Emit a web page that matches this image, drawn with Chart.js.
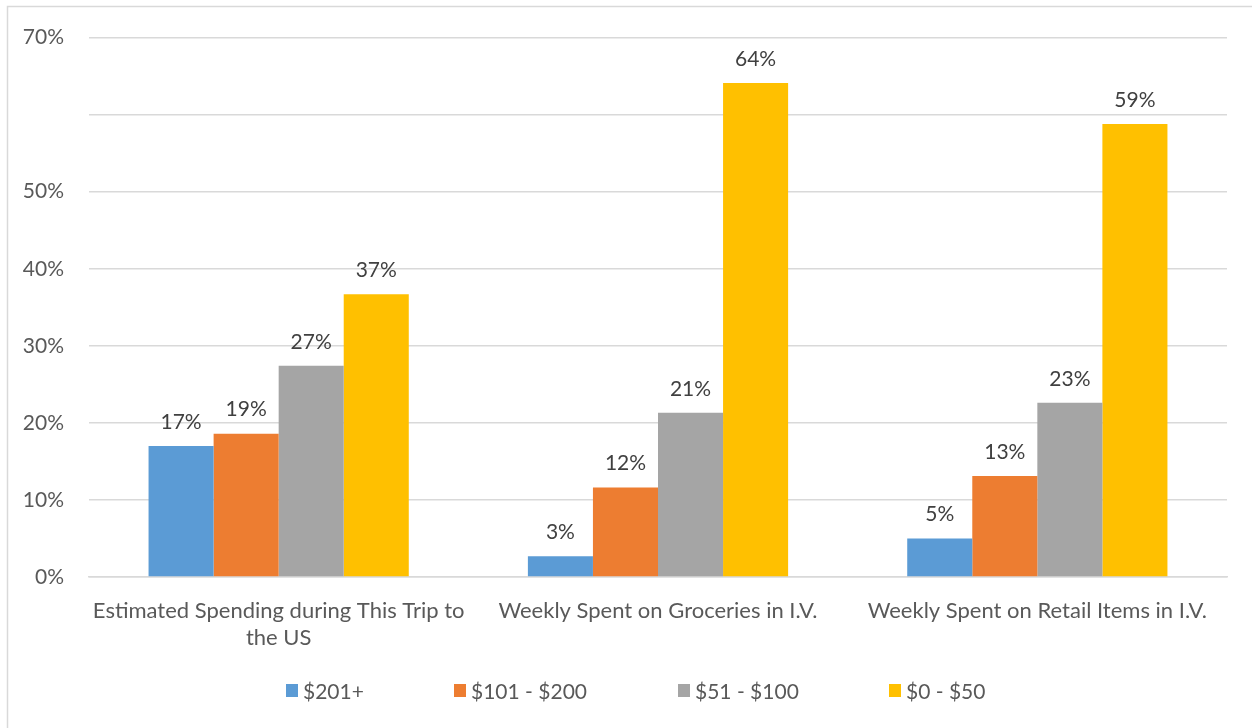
<!DOCTYPE html>
<html>
<head>
<meta charset="utf-8">
<script src="https://cdn.jsdelivr.net/npm/chart.js@4.4.1/dist/chart.umd.min.js"></script>
<style>
    body { margin: 0; background: #fff; overflow: hidden; }
    #wrap { position: relative; width: 1252px; height: 728px; }
    #legend {
        position: absolute; left: 0; top: 678px; width: 1252px; height: 28px;
        font-family: Lato, sans-serif; font-size: 21px; color: #595959;
    }
    #legend .item { position: absolute; top: 0; display: flex; align-items: center; white-space: nowrap; }
    #legend .box { width: 12px; height: 13px; margin-right: 5px; }
</style>
</head>
<body>
<div id="wrap">
    <canvas id="chart" width="1252" height="728"></canvas>
    <div id="legend"></div>
</div>
<script>
const categories = [
    ["Estimated Spending during This Trip to", "the US"],
    "Weekly Spent on Groceries in I.V.",
    "Weekly Spent on Retail Items in I.V."
]
const seriesNames = ["$201+", "$101 - $200", "$51 - $100", "$0 - $50"]
const seriesColors = ["#5b9bd5", "#ed7d31", "#a5a5a5", "#ffc000"]

// share of respondents per spending bracket, percent
const over200 = [17.0, 2.7, 5.0]
const from101to200 = [18.6, 11.6, 13.1]
const from51to100 = [27.4, 21.3, 22.6]
const upTo50 = [36.7, 64.1, 58.8]

const yTicks = [0, 10, 20, 30, 40, 50, 60, 70]
const hiddenTick = 60

const FONT = "Lato, sans-serif"
const GREY = "#595959"
const legendLeft = [286, 454, 678, 889]

const seriesValues = [over200, from101to200, from51to100, upTo50]

// percent labels above each bar
const barLabels = {
    id: "barLabels",
    afterDatasetsDraw(chart) {
        const c = chart.ctx
        c.save()
        c.font = `21px ${FONT}`
        c.fillStyle = "#404040"
        c.textAlign = "center"
        c.textBaseline = "middle"
        chart.data.datasets.forEach((ds, i) => {
            chart.getDatasetMeta(i).data.forEach((bar, j) => {
                c.fillText(Math.round(ds.data[j]) + "%", bar.x, bar.y - 24)
            })
        })
        c.restore()
    }
}

// thin frame around the chart
const frame = {
    id: "frame",
    beforeDraw(chart) {
        const c = chart.ctx
        c.save()
        c.strokeStyle = "#d9d9d9"
        c.lineWidth = 1.5
        c.strokeRect(7.5, 6.5, 1400, 900)
        c.restore()
    }
}

const chart = new Chart(document.querySelector("#chart"), {
    type: "bar",
    data: {
        labels: categories,
        datasets: seriesNames.map((name, i) => ({
            label: name,
            data: seriesValues[i],
            backgroundColor: seriesColors[i],
            categoryPercentage: 0.686,
            barPercentage: 1
        }))
    },
    options: {
        responsive: false,
        animation: false,
        layout: {
            padding: { top: 36, right: 25, bottom: 71, left: 0 }
        },
        scales: {
            x: {
                grid: { display: false },
                border: { display: true, color: "#d9d9d9", width: 1.5 },
                ticks: {
                    color: GREY,
                    padding: 12,
                    maxRotation: 0,
                    autoSkip: false,
                    font: { family: FONT, size: 22, lineHeight: "27px" }
                },
                afterFit: (scale) => { scale.height = 80 }
            },
            y: {
                min: 0,
                max: 70,
                afterBuildTicks: (scale) => {
                    scale.ticks = yTicks.map(v => ({ value: v }))
                },
                grid: { color: "#d9d9d9", lineWidth: 1.5, drawTicks: false, tickLength: 0 },
                border: { display: false },
                ticks: {
                    color: GREY,
                    padding: 25,
                    font: { family: FONT, size: 21 },
                    callback: (v) => v === hiddenTick ? "" : v + "%"
                },
                afterFit: (scale) => { scale.width = 89 }
            }
        },
        plugins: {
            legend: { display: false },
            tooltip: { enabled: false }
        }
    },
    plugins: [frame, barLabels]
})

const legend = document.querySelector("#legend")
seriesNames.forEach((name, i) => {
    const item = document.createElement("div")
    item.className = "item"
    item.style.left = legendLeft[i] + "px"
    item.innerHTML = `<span class="box" style="background:${seriesColors[i]}"></span><span>${name}</span>`
    legend.appendChild(item)
})
</script>
</body>
</html>
